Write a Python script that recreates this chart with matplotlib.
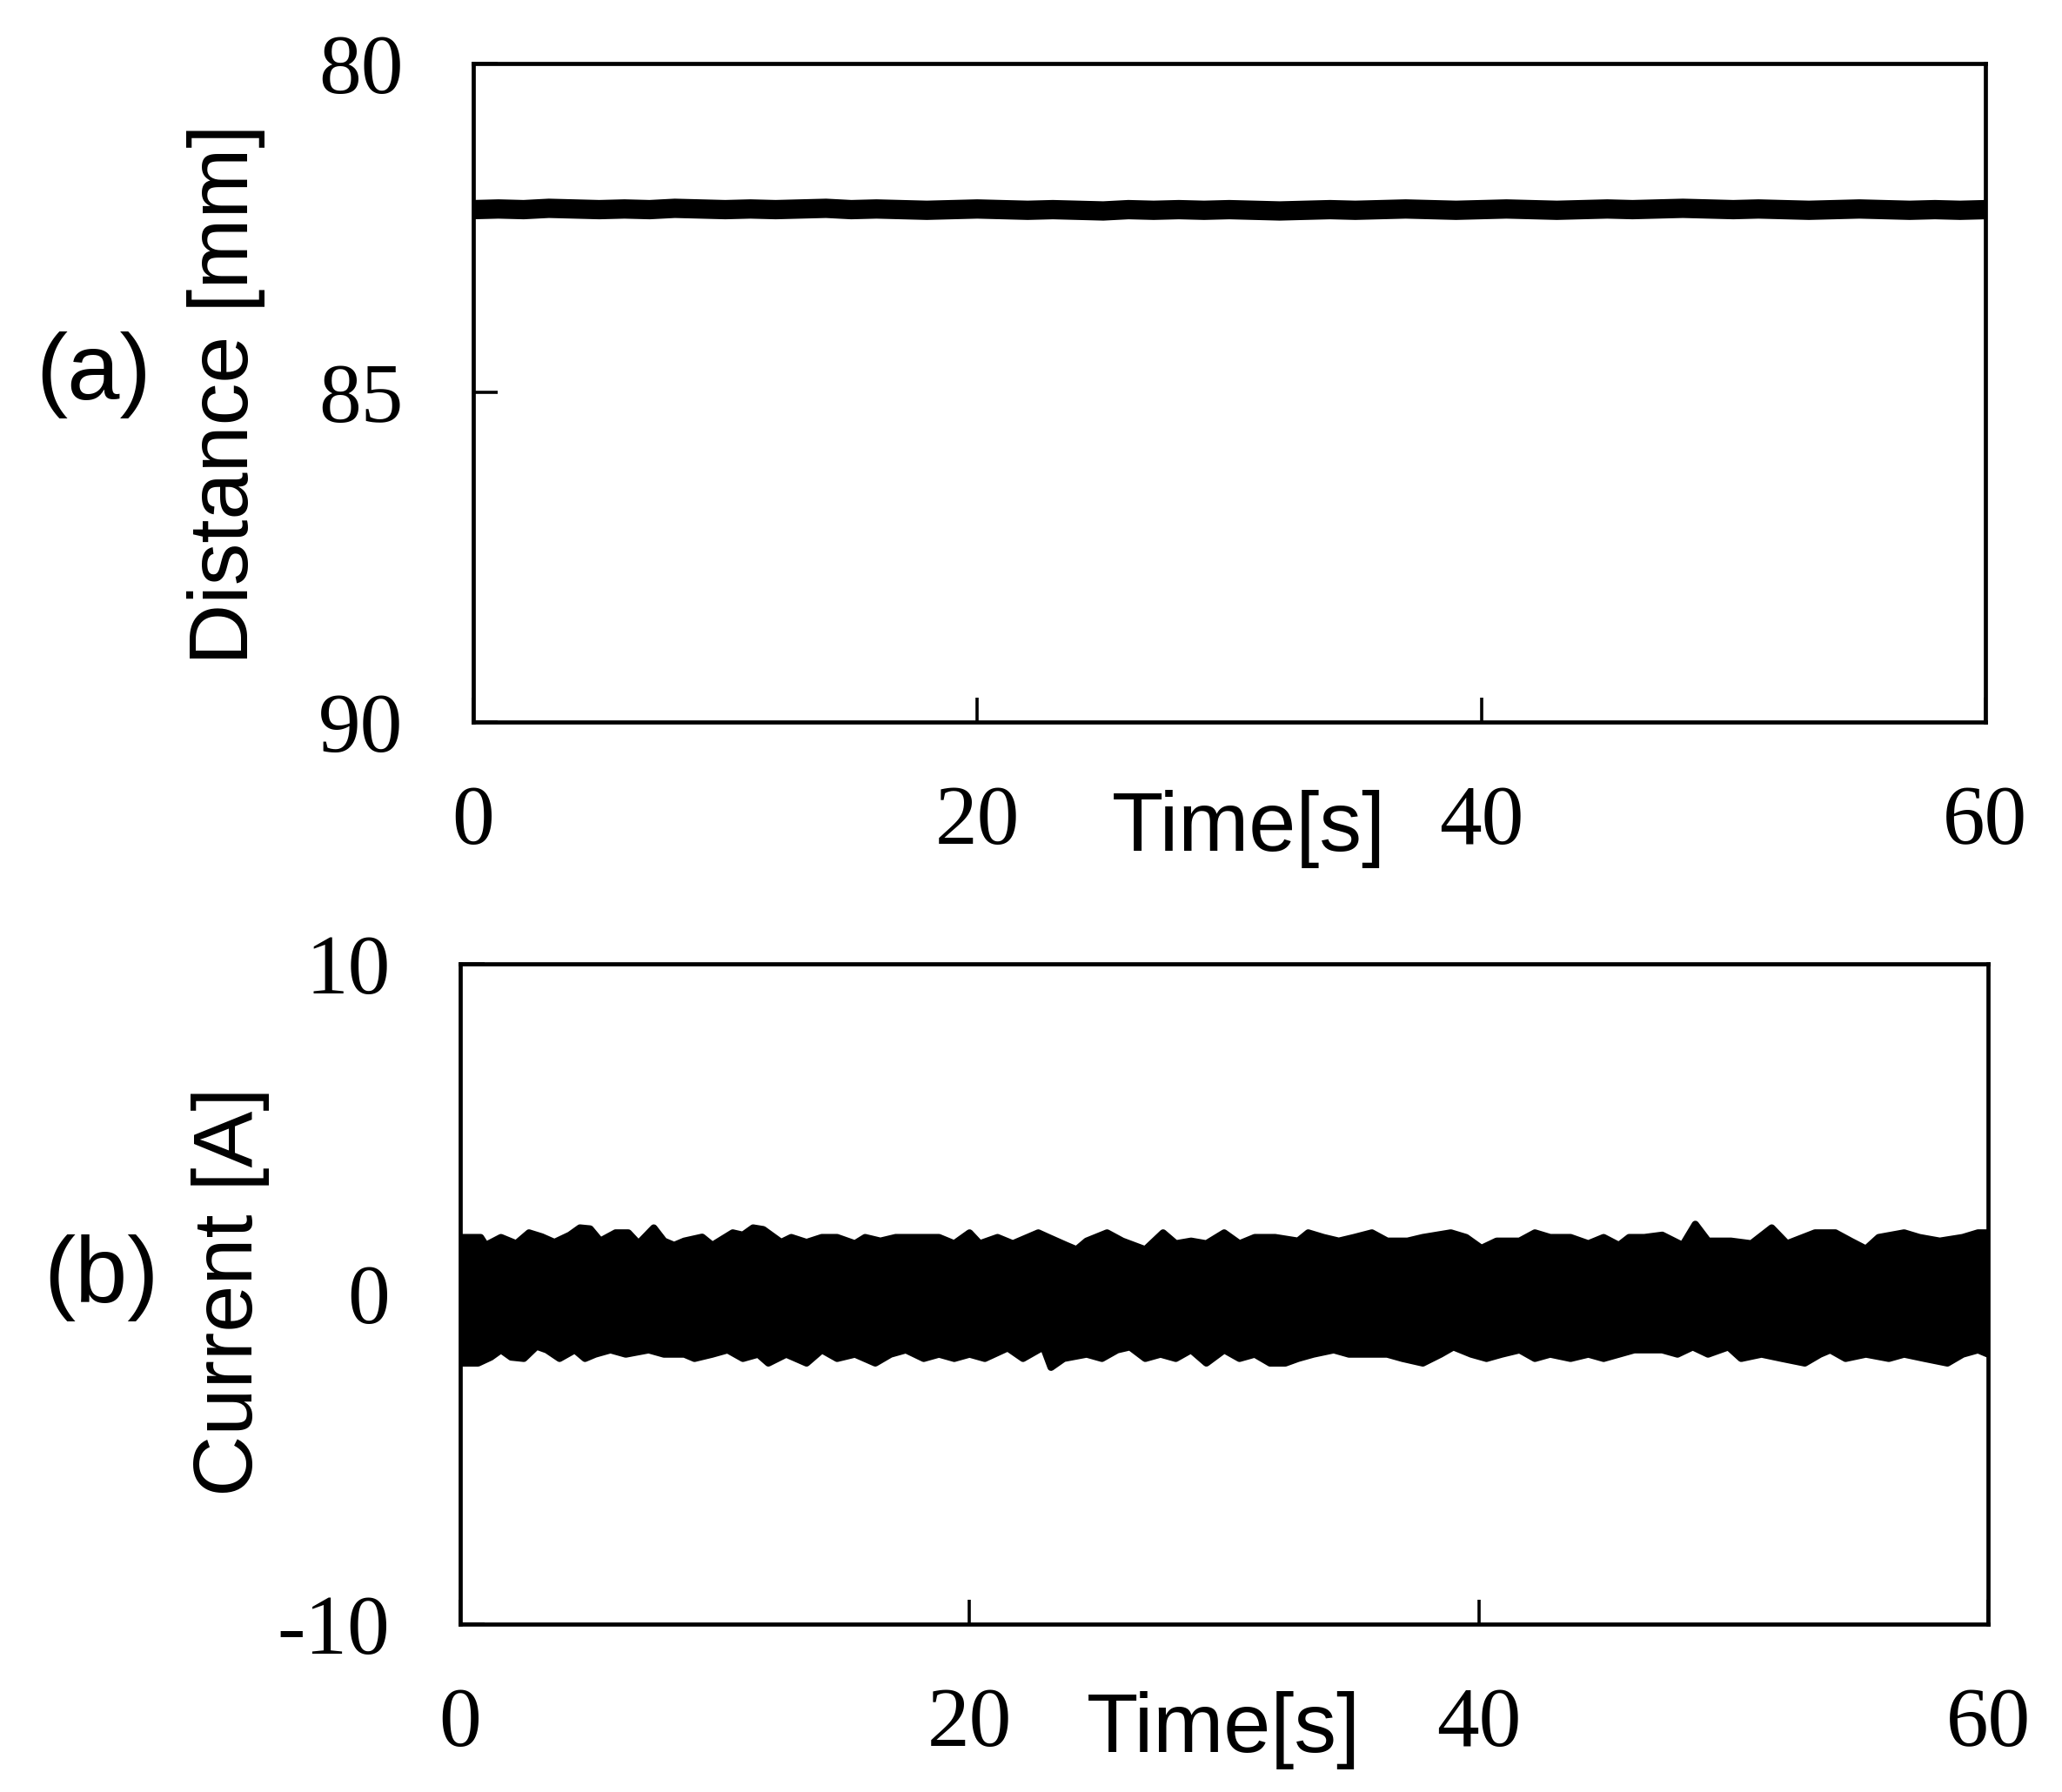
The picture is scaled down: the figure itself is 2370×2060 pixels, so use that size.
import numpy as np
import matplotlib
matplotlib.use('Agg')
import matplotlib.pyplot as plt

plt.rcParams['axes.unicode_minus'] = False

SERIF = 'Liberation Serif'
SANS = 'Liberation Sans'

# (a) distance trace, every second
dist_t = list(range(0, 61))
dist_mm = [82.22, 82.21, 82.22, 82.20, 82.21, 82.22, 82.21, 82.22, 82.20, 82.21,
           82.22, 82.21, 82.22, 82.21, 82.20, 82.22, 82.21, 82.22, 82.23, 82.22,
           82.21, 82.22, 82.23, 82.22, 82.23, 82.24, 82.22, 82.23, 82.22, 82.23,
           82.22, 82.23, 82.24, 82.23, 82.22, 82.23, 82.22, 82.21, 82.22, 82.23,
           82.22, 82.21, 82.22, 82.23, 82.22, 82.21, 82.22, 82.21, 82.20, 82.21,
           82.22, 82.21, 82.22, 82.23, 82.22, 82.21, 82.22, 82.23, 82.22, 82.23,
           82.22]

# (b) current: upper and lower envelope of the dense signal
cur_up_t = [0.0, 0.8, 1.0, 1.6, 2.2, 2.7, 3.2, 3.7, 4.3, 4.7, 5.1, 5.5, 6.1, 6.6,
            7.0, 7.6, 8.0, 8.4, 8.8, 9.5, 9.9, 10.7, 11.1, 11.5, 11.9, 12.6, 13.0,
            13.6, 14.2, 14.8, 15.5, 15.9, 16.5, 17.1, 18.2, 18.8, 19.4, 20.0, 20.4,
            21.1, 21.7, 22.7, 23.1, 23.8, 24.2, 24.6, 25.4, 26.0, 26.9, 27.6, 28.1,
            28.7, 29.3, 30.0, 30.6, 31.2, 32.0, 32.9, 33.3, 33.9, 34.5, 35.1, 35.8,
            36.4, 37.2, 37.8, 38.9, 39.5, 40.1, 40.7, 41.6, 42.2, 42.8, 43.6, 44.3,
            44.9, 45.5, 45.9, 46.5, 47.2, 48.0, 48.5, 49.0, 49.9, 50.7, 51.5, 52.1,
            53.2, 54.0, 54.6, 55.2, 55.7, 56.7, 57.3, 58.1, 59.0, 59.6, 60.0]
cur_up = [1.71, 1.71, 1.47, 1.71, 1.52, 1.85, 1.73, 1.56, 1.78, 2.00, 1.97, 1.60, 1.85, 1.85,
          1.52, 2.00, 1.60, 1.47, 1.60, 1.72, 1.47, 1.85, 1.78, 2.00, 1.95, 1.56, 1.71,
          1.56, 1.71, 1.71, 1.52, 1.71, 1.60, 1.71, 1.71, 1.71, 1.52, 1.85, 1.52,
          1.71, 1.52, 1.85, 1.71, 1.47, 1.34, 1.60, 1.85, 1.60, 1.34, 1.85, 1.52,
          1.60, 1.52, 1.85, 1.52, 1.71, 1.71, 1.60, 1.85, 1.71, 1.60, 1.71, 1.85,
          1.60, 1.60, 1.71, 1.85, 1.71, 1.38, 1.60, 1.60, 1.85, 1.71, 1.71, 1.52,
          1.71, 1.47, 1.71, 1.71, 1.78, 1.47, 2.11, 1.60, 1.60, 1.52, 2.00, 1.52,
          1.85, 1.85, 1.60, 1.36, 1.71, 1.85, 1.71, 1.60, 1.71, 1.85, 1.85]

cur_lo_t = [0.0, 0.7, 1.2, 1.6, 2.0, 2.5, 3.0, 3.4, 3.9, 4.5, 4.9, 5.3, 5.9, 6.5,
            7.4, 8.0, 8.8, 9.2, 9.9, 10.5, 11.1, 11.7, 12.1, 12.8, 13.6, 14.2, 14.8,
            15.5, 16.3, 16.9, 17.5, 18.2, 18.8, 19.4, 20.0, 20.6, 21.5, 22.1, 22.9,
            23.2, 23.7, 24.6, 25.2, 25.8, 26.3, 26.9, 27.5, 28.1, 28.7, 29.3, 30.0,
            30.6, 31.2, 31.8, 32.4, 32.9, 33.5, 34.3, 34.9, 35.8, 36.4, 37.0, 37.8,
            38.5, 39.0, 39.7, 40.3, 40.9, 41.6, 42.2, 42.8, 43.6, 44.3, 44.9, 45.5,
            46.1, 47.2, 47.8, 48.4, 49.0, 49.8, 50.3, 51.1, 51.9, 52.8, 53.4, 53.8,
            54.4, 55.2, 56.1, 56.7, 57.5, 58.4, 59.0, 59.6, 60.0]
cur_lo = [-2.09, -2.09, -1.91, -1.69, -1.91, -1.95, -1.58, -1.69, -1.95, -1.69, -1.95, -1.82, -1.69, -1.82,
          -1.69, -1.82, -1.82, -1.95, -1.82, -1.69, -1.95, -1.82, -2.09, -1.82, -2.09, -1.69, -1.95,
          -1.82, -2.09, -1.82, -1.69, -1.95, -1.82, -1.95, -1.82, -1.95, -1.63, -1.95, -1.60,
          -2.22, -1.95, -1.82, -1.95, -1.69, -1.60, -1.95, -1.82, -1.95, -1.69, -2.09, -1.69,
          -1.95, -1.82, -2.09, -2.09, -1.95, -1.82, -1.69, -1.82, -1.82, -1.82, -1.95, -2.09,
          -1.82, -1.60, -1.82, -1.95, -1.82, -1.69, -1.95, -1.82, -1.95, -1.82, -1.95, -1.82,
          -1.69, -1.69, -1.82, -1.60, -1.82, -1.60, -1.95, -1.82, -1.95, -2.09, -1.82, -1.69,
          -1.95, -1.82, -1.95, -1.82, -1.95, -2.09, -1.82, -1.69, -1.82]

x_ticks = [0, 20, 40, 60]
dist_ticks = [80, 85, 90]
cur_ticks = [-10, 0, 10]

fig = plt.figure(figsize=(23.7, 20.6), dpi=100)
ax1 = fig.add_axes([0.2295, 0.5971, 0.7333, 0.3675])
ax2 = fig.add_axes([0.2232, 0.0937, 0.7410, 0.3684])


def style_axes(ax):
    for side in ['left', 'bottom', 'right', 'top']:
        ax.spines[side].set_linewidth(3.4)
    ax.set_xlim(0, 60)
    ax.set_xticks(x_ticks)
    ax.tick_params(direction='in', length=20, width=2.6, top=False, right=False)
    ax.tick_params(axis='x', pad=52)
    ax.tick_params(axis='y', pad=58)
    for lab in ax.get_xticklabels() + ax.get_yticklabels():
        lab.set_fontfamily(SERIF)
        lab.set_fontsize(70)


# (a)
ax1.plot(dist_t, dist_mm, color='black', lw=16, solid_joinstyle='round')
ax1.set_ylim(90, 80)
ax1.set_yticks(dist_ticks)
style_axes(ax1)
ax1.text(0.513, -0.163, 'Time[s]', transform=ax1.transAxes, ha='center', va='center',
         fontsize=70, family=SANS)

# (b)
poly_t = cur_up_t + cur_lo_t[::-1]
poly_v = cur_up + cur_lo[::-1]
ax2.fill(poly_t, poly_v, color='black', lw=0)
ax2.plot(cur_up_t, cur_up, color='black', lw=6, solid_joinstyle='round')
ax2.plot(cur_lo_t, cur_lo, color='black', lw=6, solid_joinstyle='round')
ax2.set_ylim(-10, 10)
ax2.set_yticks(cur_ticks)
style_axes(ax2)
ax2.text(0.4995, -0.161, 'Time[s]', transform=ax2.transAxes, ha='center', va='center',
         fontsize=70, family=SANS)

fig.text(0.1097, 0.780, 'Distance [mm]', rotation=90, ha='center', va='center',
         fontsize=70, family=SANS)
fig.text(0.0455, 0.7908, '(a)', ha='center', va='center', fontsize=78, family=SANS)
fig.text(0.1118, 0.279, 'Current [A]', rotation=90, ha='center', va='center',
         fontsize=70, family=SANS)
fig.text(0.049, 0.287, '(b)', ha='center', va='center', fontsize=78, family=SANS)

fig.savefig('out.png', dpi=100)
